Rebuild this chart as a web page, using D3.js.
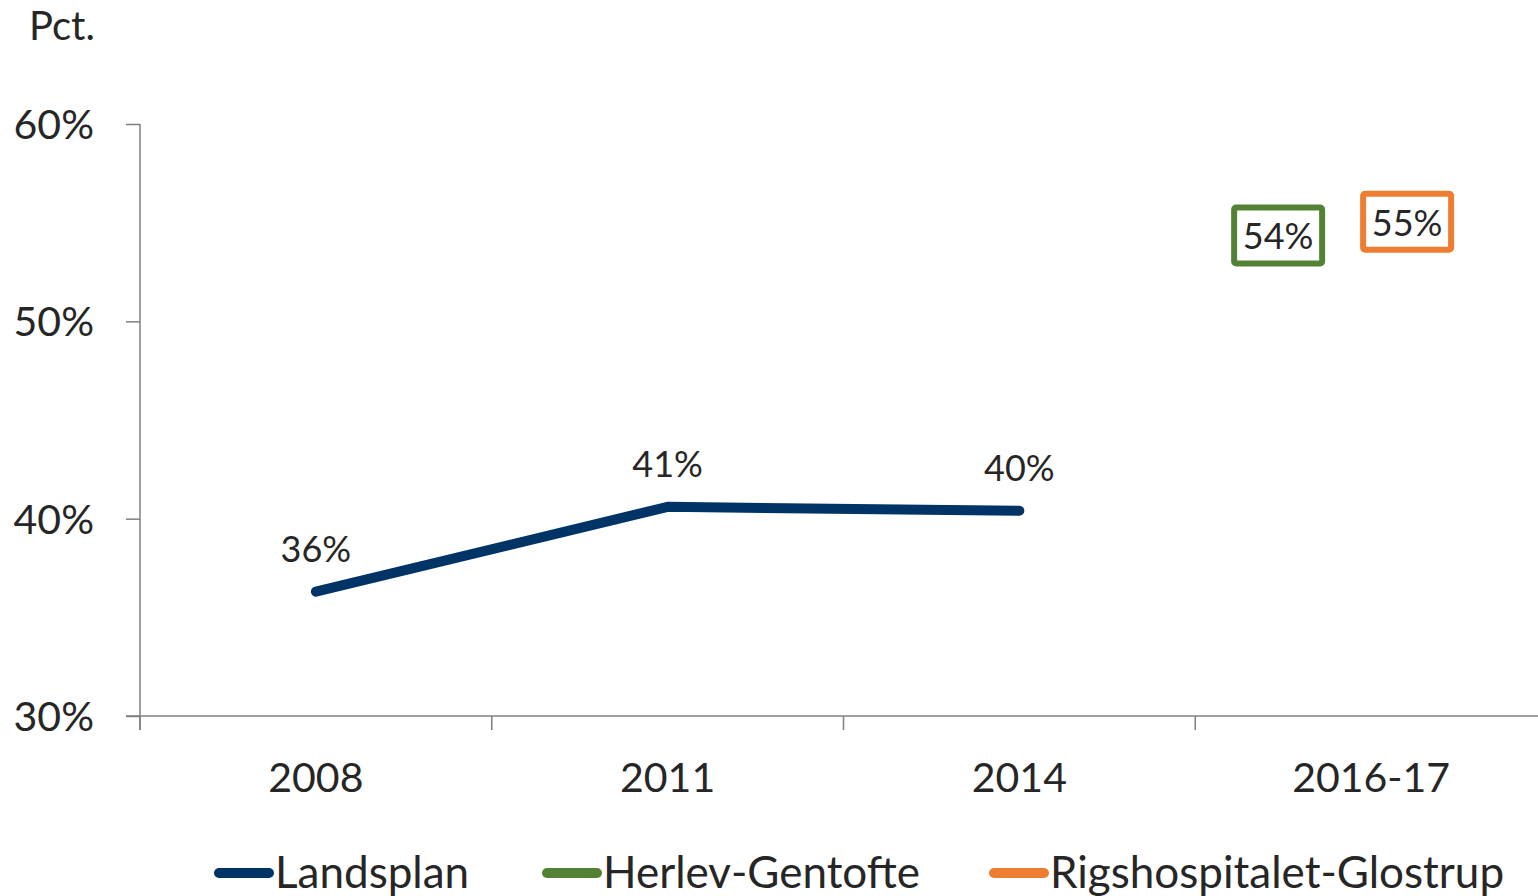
<!DOCTYPE html>
<html>
<head>
<meta charset="utf-8">
<script src="https://cdn.jsdelivr.net/npm/d3@7"></script>
<style>
  body { margin: 0; background: #fff; }
  svg text { font-family: Lato, "Open Sans", sans-serif; fill: #262626; }
</style>
</head>
<body>
<svg id="chart" width="1538" height="896"></svg>
<script>
const years = ["2008", "2011", "2014", "2016-17"];
const landsplan = [0.363, 0.406, 0.404];
const herlev = [null, null, null, 0.543];
const rigs = [null, null, null, 0.55];
const yTicks = [0.3, 0.4, 0.5, 0.6];
const seriesNames = ["Landsplan", "Herlev-Gentofte", "Rigshospitalet-Glostrup"];
const colors = ["#003366", "#548235", "#ED7D31"];

const width = 1538, height = 896;
const svg = d3.select("#chart");

const x = d3.scaleBand().domain(years).range([140, 1547]).padding(0);
const y = d3.scaleLinear().domain([0.3, 0.6]).range([716, 124]);
const fmt = d3.format(".0%");

// y axis
const yAxis = svg.append("g")
  .attr("transform", "translate(140,0)")
  .call(d3.axisLeft(y).tickValues(yTicks).tickFormat(fmt).tickSize(14));
yAxis.select(".domain").attr("d", "M0,124V730")
  .attr("stroke", "#7f7f7f").attr("stroke-width", 1.5);
yAxis.selectAll("line").attr("stroke", "#7f7f7f").attr("stroke-width", 1.5);
yAxis.selectAll("text")
  .attr("x", -46)
  .attr("dy", "0.35em")
  .style("font-size", "41px")
  .style("fill", "#262626")
  .style("font-family", "Lato, sans-serif");

// x axis
const xg = svg.append("g").attr("transform", "translate(0,716)");
xg.append("line").attr("x1", 126).attr("x2", 1538).attr("stroke", "#7f7f7f").attr("stroke-width", 1.5);
xg.selectAll("line.tick").data(years).join("line")
  .attr("class", "tick")
  .attr("x1", d => x(d)).attr("x2", d => x(d))
  .attr("y1", 0).attr("y2", 14)
  .attr("stroke", "#7f7f7f").attr("stroke-width", 1.5);
xg.selectAll("text").data(years).join("text")
  .attr("x", d => x(d) + x.bandwidth() / 2)
  .attr("y", 76)
  .attr("text-anchor", "middle")
  .style("font-size", "41px")
  .text(d => d);

svg.append("text").attr("x", 29).attr("y", 40).style("font-size", "40px").text("Pct.");

// Landsplan line
const pts = landsplan.map((v, i) => ({ cat: years[i], v }));
svg.append("path")
  .datum(pts)
  .attr("fill", "none")
  .attr("stroke", colors[0])
  .attr("stroke-width", 10)
  .attr("stroke-linecap", "round")
  .attr("stroke-linejoin", "round")
  .attr("d", d3.line().x(d => x(d.cat) + x.bandwidth() / 2).y(d => y(d.v)));

svg.selectAll("text.lbl").data(pts).join("text")
  .attr("class", "lbl")
  .attr("x", d => x(d.cat) + x.bandwidth() / 2)
  .attr("y", d => y(d.v) - 30)
  .attr("text-anchor", "middle")
  .style("font-size", "36px")
  .text(d => fmt(d.v));

// boxed labels for 2016-17
const boxed = [
  { vals: herlev, color: colors[1], dx: -93 },
  { vals: rigs, color: colors[2], dx: 36 }
];
boxed.forEach(s => {
  s.vals.forEach((v, i) => {
    if (v == null) return;
    const cx = x(years[i]) + x.bandwidth() / 2 + s.dx;
    const cy = y(v) - 1;
    svg.append("rect")
      .attr("x", cx - 44).attr("y", cy - 28)
      .attr("width", 88).attr("height", 56)
      .attr("rx", 2)
      .attr("fill", "#fff")
      .attr("stroke", s.color)
      .attr("stroke-width", 6);
    svg.append("text")
      .attr("x", cx).attr("y", cy + 14)
      .attr("text-anchor", "middle")
      .style("font-size", "36px")
      .text(fmt(v));
  });
});

// legend
const legendX = [215, 543, 990];
const lg = svg.append("g").attr("transform", "translate(0,873)");
seriesNames.forEach((name, i) => {
  lg.append("line")
    .attr("x1", legendX[i] + 4).attr("x2", legendX[i] + 54)
    .attr("stroke", colors[i]).attr("stroke-width", 10).attr("stroke-linecap", "round");
  lg.append("text")
    .attr("x", legendX[i] + 60).attr("y", 15)
    .style("font-size", "44px")
    .text(name);
});
</script>
</body>
</html>
